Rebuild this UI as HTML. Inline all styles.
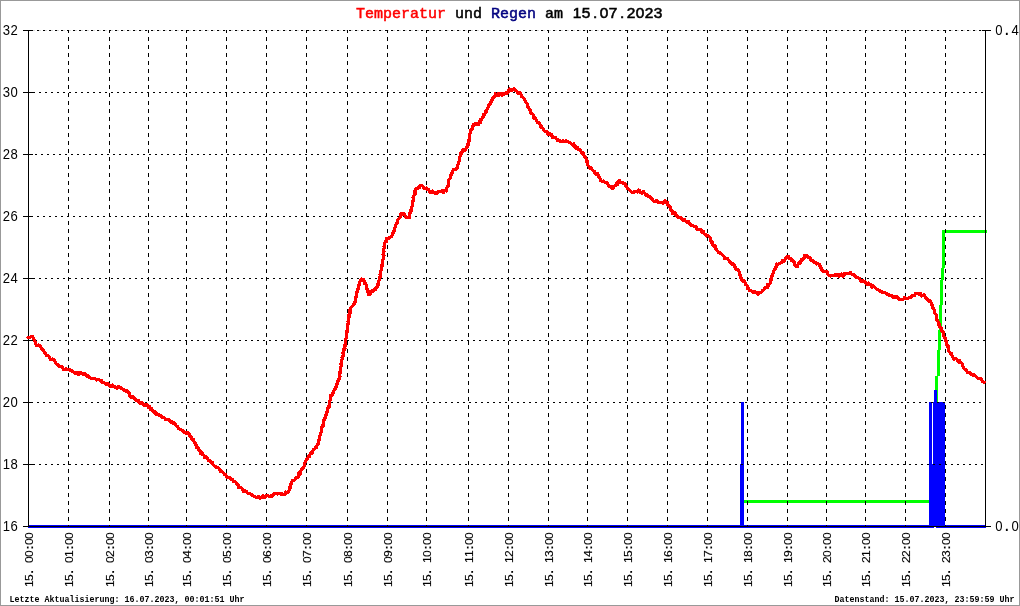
<!DOCTYPE html>
<html lang="de"><head><meta charset="utf-8"><title>Temperatur und Regen am 15.07.2023</title>
<style>html,body{margin:0;padding:0;background:#fff;overflow:hidden}svg{display:block}.t{font-family:"Liberation Mono",monospace;font-size:15px;stroke-width:0.5px}.y{font-family:"Liberation Sans",sans-serif;font-size:13.5px;letter-spacing:0.5px}.d{font-family:"Liberation Sans",sans-serif;font-size:14px;stroke:#000;stroke-width:0.55px}.x{font-family:"Liberation Sans",sans-serif;font-size:11.5px;stroke:#000;stroke-width:0.15px}.f{font-family:"Liberation Mono",monospace;font-size:8.33px;font-weight:bold}</style></head><body>
<svg width="1020" height="606" viewBox="0 0 1020 606">
<rect x="0" y="0" width="1020" height="606" fill="#fff"/>
<rect x="0.5" y="0.5" width="1019" height="605" fill="none" stroke="#999" stroke-width="1" shape-rendering="crispEdges"/>
<g shape-rendering="crispEdges">
<g fill="#00ff00">
<rect x="744" y="500" width="186" height="3"/>
<rect x="942" y="230" width="45" height="3"/>
<rect x="942" y="230" width="3" height="38"/>
<rect x="941" y="268" width="3" height="12"/>
<rect x="940" y="280" width="3" height="25"/>
<rect x="939" y="305" width="3" height="25"/>
<rect x="938" y="330" width="3" height="20"/>
<rect x="937" y="350" width="3" height="26"/>
<rect x="935" y="376" width="3" height="27"/>
</g>
<g fill="#0000ff">
<rect x="28" y="525" width="958" height="3"/>
<rect x="741" y="402" width="3" height="124"/>
<rect x="740" y="464" width="4" height="62"/>
<rect x="929" y="402" width="3" height="124"/>
<rect x="932" y="464" width="1" height="62"/>
<rect x="933" y="402" width="12" height="124"/>
<rect x="934" y="390" width="3" height="12"/>
</g>
<rect x="934" y="527" width="2" height="1" fill="#fff"/>
<g stroke="#000" stroke-width="1" fill="none">
<line x1="28" y1="30.5" x2="985" y2="30.5" stroke="#d6d6d6" stroke-dasharray="2 4" stroke-dashoffset="1"/>
<line x1="28" y1="30.5" x2="985" y2="30.5" stroke-dasharray="2 4" stroke-dashoffset="3"/>
<line x1="28" y1="92.5" x2="985" y2="92.5" stroke-dasharray="2 4" stroke-dashoffset="1"/>
<line x1="28" y1="154.5" x2="985" y2="154.5" stroke-dasharray="2 4" stroke-dashoffset="5"/>
<line x1="28" y1="216.5" x2="985" y2="216.5" stroke-dasharray="2 4" stroke-dashoffset="3"/>
<line x1="28" y1="278.5" x2="985" y2="278.5" stroke-dasharray="2 4" stroke-dashoffset="1"/>
<line x1="28" y1="340.5" x2="985" y2="340.5" stroke-dasharray="2 4" stroke-dashoffset="5"/>
<line x1="28" y1="402.5" x2="985" y2="402.5" stroke-dasharray="2 4" stroke-dashoffset="3"/>
<line x1="28" y1="464.5" x2="985" y2="464.5" stroke-dasharray="2 4" stroke-dashoffset="1"/>
<line x1="68.5" y1="30" x2="68.5" y2="527" stroke-dasharray="4 4" stroke-dashoffset="1"/>
<line x1="109.5" y1="30" x2="109.5" y2="527" stroke-dasharray="4 4" stroke-dashoffset="1"/>
<line x1="148.5" y1="30" x2="148.5" y2="527" stroke-dasharray="4 4" stroke-dashoffset="1"/>
<line x1="186.5" y1="30" x2="186.5" y2="527" stroke-dasharray="4 4" stroke-dashoffset="1"/>
<line x1="226.5" y1="30" x2="226.5" y2="527" stroke-dasharray="4 4" stroke-dashoffset="1"/>
<line x1="266.5" y1="30" x2="266.5" y2="527" stroke-dasharray="4 4" stroke-dashoffset="1"/>
<line x1="306.5" y1="30" x2="306.5" y2="527" stroke-dasharray="4 4" stroke-dashoffset="1"/>
<line x1="347.5" y1="30" x2="347.5" y2="527" stroke-dasharray="4 4" stroke-dashoffset="1"/>
<line x1="387.5" y1="30" x2="387.5" y2="527" stroke-dasharray="4 4" stroke-dashoffset="1"/>
<line x1="426.5" y1="30" x2="426.5" y2="527" stroke-dasharray="4 4" stroke-dashoffset="1"/>
<line x1="468.5" y1="30" x2="468.5" y2="527" stroke-dasharray="4 4" stroke-dashoffset="1"/>
<line x1="508.5" y1="30" x2="508.5" y2="527" stroke-dasharray="4 4" stroke-dashoffset="1"/>
<line x1="548.5" y1="30" x2="548.5" y2="527" stroke-dasharray="4 4" stroke-dashoffset="1"/>
<line x1="587.5" y1="30" x2="587.5" y2="527" stroke-dasharray="4 4" stroke-dashoffset="1"/>
<line x1="627.5" y1="30" x2="627.5" y2="527" stroke-dasharray="4 4" stroke-dashoffset="1"/>
<line x1="667.5" y1="30" x2="667.5" y2="527" stroke-dasharray="4 4" stroke-dashoffset="1"/>
<line x1="707.5" y1="30" x2="707.5" y2="527" stroke-dasharray="4 4" stroke-dashoffset="1"/>
<line x1="747.5" y1="30" x2="747.5" y2="527" stroke-dasharray="4 4" stroke-dashoffset="1"/>
<line x1="787.5" y1="30" x2="787.5" y2="527" stroke-dasharray="4 4" stroke-dashoffset="1"/>
<line x1="826.5" y1="30" x2="826.5" y2="527" stroke-dasharray="4 4" stroke-dashoffset="1"/>
<line x1="865.5" y1="30" x2="865.5" y2="527" stroke-dasharray="4 4" stroke-dashoffset="1"/>
<line x1="905.5" y1="30" x2="905.5" y2="527" stroke-dasharray="4 4" stroke-dashoffset="1"/>
<line x1="945.5" y1="30" x2="945.5" y2="527" stroke-dasharray="4 4" stroke-dashoffset="1"/>
<line x1="28.5" y1="30" x2="28.5" y2="527"/>
<line x1="985.5" y1="30" x2="985.5" y2="527"/>
<line x1="23" y1="526.5" x2="991" y2="526.5"/>
<line x1="23" y1="30.5" x2="33" y2="30.5"/>
<line x1="23" y1="92.5" x2="33" y2="92.5"/>
<line x1="23" y1="154.5" x2="33" y2="154.5"/>
<line x1="23" y1="216.5" x2="33" y2="216.5"/>
<line x1="23" y1="278.5" x2="33" y2="278.5"/>
<line x1="23" y1="340.5" x2="33" y2="340.5"/>
<line x1="23" y1="402.5" x2="33" y2="402.5"/>
<line x1="23" y1="464.5" x2="33" y2="464.5"/>
<line x1="982" y1="30.5" x2="991" y2="30.5"/>
</g>
<polyline points="27.2,336.5 28.3,337.5 29.9,337.3 31.3,336.2 32.4,336.3 32.8,337.5 34.1,339.6 34.2,340.0 35.6,342.5 35.7,343.5 36.3,345.4 37.6,345.9 38.4,344.9 40.0,346.1 40.8,346.6 41.6,348.7 42.1,349.5 43.1,349.4 44.1,352.1 45.1,352.3 45.7,353.8 46.9,355.8 47.9,355.2 49.3,356.7 49.8,358.1 50.7,359.6 52.5,359.0 53.3,359.1 54.4,359.8 55.3,362.6 56.0,363.8 57.2,364.3 58.0,365.0 59.5,366.6 60.2,366.6 61.5,366.3 63.0,368.6 63.5,369.8 65.2,369.4 66.2,368.7 67.1,369.4 69.0,369.4 69.7,369.8 71.6,371.1 72.4,370.8 74.1,372.6 75.4,373.8 76.3,372.6 78.1,373.0 78.7,374.7 80.1,372.8 81.7,373.1 82.8,374.4 84.3,373.3 85.7,374.7 87.2,376.6 88.4,375.8 88.9,376.9 90.6,378.2 91.6,378.8 92.2,378.2 93.4,378.2 94.2,378.5 95.6,379.2 96.9,380.0 98.3,379.5 99.9,380.2 101.5,380.5 101.9,382.5 103.2,382.1 104.1,382.8 106.1,384.6 106.7,384.1 107.6,383.6 109.0,384.8 110.1,386.6 112.2,385.1 112.7,386.6 113.9,386.9 116.1,387.1 117.2,388.2 118.2,386.9 119.9,387.1 121.3,388.5 122.0,388.4 124.1,390.1 125.3,390.6 126.1,391.4 126.7,390.8 127.0,392.0 128.1,392.0 129.4,393.5 129.9,396.2 131.5,397.0 131.9,397.9 132.7,396.8 133.7,397.6 135.4,399.5 136.1,400.8 137.5,401.0 138.5,400.2 139.7,403.0 140.6,403.3 142.0,402.5 143.1,403.4 143.8,405.5 145.4,404.5 145.8,405.9 146.9,404.8 148.6,407.4 149.6,406.3 150.5,409.3 151.3,408.6 151.8,408.9 153.4,412.0 154.7,411.7 155.7,412.4 156.0,414.3 157.1,413.7 158.4,414.5 159.3,415.2 160.9,415.4 161.6,416.6 163.2,417.8 164.3,417.9 165.0,418.7 165.6,419.4 166.9,419.7 168.6,419.2 169.4,420.2 170.6,422.3 171.7,421.8 173.2,423.2 174.3,422.9 175.2,424.0 176.7,426.2 177.8,426.7 178.3,428.7 179.2,428.9 180.2,429.7 181.1,430.0 182.7,430.6 183.7,431.6 184.2,432.7 186.0,432.2 186.3,433.4 187.5,432.5 188.1,433.3 189.3,434.2 190.4,437.0 191.0,436.3 191.3,438.5 192.9,440.1 193.8,439.3 193.9,440.9 194.9,443.5 195.1,442.5 195.6,444.6 196.2,444.9 196.5,447.4 197.5,448.1 198.0,447.8 198.8,450.5 199.9,450.2 200.5,453.2 200.7,452.3 202.2,453.0 202.5,454.4 204.2,455.6 204.5,457.5 206.2,456.6 206.9,458.5 207.2,458.2 208.5,460.7 210.0,460.1 210.8,462.5 211.8,462.0 212.7,462.9 213.1,464.9 214.8,466.0 215.2,466.1 216.4,467.6 217.4,467.3 218.6,468.0 219.8,469.5 220.7,471.5 221.6,471.7 222.4,472.1 223.3,472.7 224.8,474.7 225.7,474.2 226.3,476.9 227.7,477.5 229.2,477.5 230.0,478.0 231.6,479.6 232.5,479.6 233.4,481.3 234.0,481.5 234.6,481.4 236.1,482.4 236.3,483.8 237.8,484.2 238.5,487.2 238.9,486.5 240.0,487.5 241.1,487.9 242.7,489.1 243.4,491.7 244.9,490.7 245.4,491.7 246.6,491.7 247.8,493.5 248.9,493.3 249.8,493.4 251.0,494.1 251.7,494.6 253.0,495.8 254.7,496.7 256.1,497.2 257.7,497.3 258.5,496.6 259.6,498.3 261.5,497.4 263.0,495.5 264.1,497.6 265.7,497.0 266.7,495.4 268.4,496.1 269.7,496.7 271.1,495.9 272.2,496.0 272.8,494.6 274.4,493.8 276.1,493.3 277.2,494.0 278.5,493.6 279.1,493.5 281.2,494.4 282.4,493.8 283.2,494.4 284.8,494.8 285.8,492.0 286.8,492.7 288.6,491.7 289.1,490.0 289.8,488.7 290.2,488.2 290.0,486.6 290.6,484.1 291.1,484.4 291.2,482.7 292.5,480.4 293.9,480.9 294.5,480.0 295.7,478.5 296.3,477.4 297.1,477.5 298.6,476.6 298.8,473.0 300.0,474.0 300.0,472.0 301.4,470.3 301.8,469.2 302.3,468.0 302.4,469.0 303.4,467.5 304.1,466.6 304.9,463.7 304.6,463.3 305.6,460.9 305.9,461.0 306.5,459.1 307.7,458.4 308.3,456.4 308.3,457.4 309.6,456.5 309.8,455.2 310.9,452.9 312.0,453.5 312.8,450.9 313.4,449.7 315.2,448.2 316.2,447.7 316.0,446.5 316.3,446.1 317.5,444.6 317.8,444.7 318.3,443.0 318.4,442.6 318.3,440.9 319.2,439.8 319.7,438.6 319.4,436.1 319.8,436.6 320.4,434.1 321.1,432.4 320.9,432.9 321.3,430.9 321.7,429.3 321.8,427.1 322.9,425.9 322.6,425.4 323.8,425.3 323.3,422.8 323.6,420.9 324.0,420.1 324.5,418.5 325.6,418.2 325.5,417.4 326.0,415.3 326.2,413.9 326.5,411.9 326.7,413.0 327.7,410.6 327.7,410.3 328.1,407.6 328.7,406.7 329.5,407.0 328.9,405.6 329.8,402.2 329.8,403.2 329.5,401.2 330.6,399.5 330.8,399.4 330.3,398.6 330.5,395.2 331.2,395.1 332.0,395.1 332.9,393.3 333.5,391.7 334.5,389.6 335.5,389.1 335.7,389.1 336.0,386.5 336.8,386.6 336.6,384.0 337.5,383.8 337.5,382.2 337.6,381.5 338.5,379.5 339.0,380.0 339.2,378.5 339.3,375.6 340.0,376.3 339.5,373.3 340.3,372.6 340.0,371.1 340.9,370.6 340.2,368.2 340.7,367.2 340.7,366.9 341.4,366.0 341.0,364.0 341.3,363.9 341.4,362.3 342.1,359.5 342.5,358.5 342.0,357.8 342.5,355.8 343.3,355.7 343.0,353.1 343.8,352.1 343.2,350.7 343.8,349.2 344.6,350.2 345.0,348.5 344.6,347.8 345.5,344.6 344.8,344.8 345.4,343.4 345.5,341.4 345.4,339.6 345.9,338.7 345.8,339.2 346.1,338.0 346.9,335.1 346.7,335.1 346.9,331.9 347.6,331.5 347.2,329.7 347.0,330.3 347.9,327.8 347.3,327.5 347.4,324.4 347.7,325.4 348.5,323.8 347.9,321.5 348.4,321.8 348.6,318.8 348.4,317.6 349.2,315.5 349.3,316.5 348.9,315.3 349.6,312.1 350.4,312.7 350.0,309.8 350.6,308.6 350.7,308.5 351.6,306.8 352.8,306.0 353.6,304.7 354.8,303.1 354.7,303.0 355.6,300.1 355.2,298.9 355.9,297.1 356.5,296.5 356.8,296.6 356.2,293.7 357.0,291.9 357.2,292.2 357.6,289.6 358.1,289.3 358.6,288.3 358.3,286.8 358.8,285.9 359.3,283.8 359.5,282.9 360.3,280.5 361.7,279.1 361.8,279.0 363.4,279.4 363.6,280.5 365.0,282.1 364.8,283.9 365.9,283.8 366.4,286.0 366.1,285.2 366.4,286.7 367.3,290.1 367.6,291.2 368.1,292.2 369.0,291.7 368.8,294.7 369.8,294.9 370.6,292.8 371.4,291.4 372.8,290.6 373.5,290.9 374.8,288.6 375.8,289.7 376.3,287.6 377.1,287.8 377.2,284.8 378.2,284.5 378.0,284.0 378.9,281.5 378.8,281.0 379.8,279.5 379.7,278.3 379.7,277.0 380.5,277.0 379.9,274.3 380.1,273.9 381.0,270.6 381.2,270.3 381.6,268.9 381.2,267.7 381.9,265.1 382.5,265.4 382.4,262.5 382.5,261.9 382.5,259.9 383.3,259.5 383.1,257.0 383.7,257.6 383.0,254.7 384.0,255.4 383.2,253.0 383.6,252.9 384.0,251.6 383.7,250.2 383.8,248.9 384.6,246.6 384.1,246.5 384.4,243.7 384.9,243.2 385.3,241.0 386.5,241.4 386.7,238.4 386.7,239.1 388.0,238.7 389.6,237.6 390.5,237.1 391.9,236.0 392.5,234.8 392.8,233.7 393.5,231.4 393.6,231.5 394.7,231.0 394.6,229.1 395.0,227.9 395.7,225.8 396.2,224.4 396.2,224.3 396.6,223.4 397.7,222.4 397.4,220.5 398.2,219.3 398.3,219.2 399.8,217.8 400.3,216.4 401.0,214.0 401.6,213.7 401.5,213.7 403.4,214.3 404.1,213.3 405.1,216.1 406.4,217.2 407.4,217.8 409.4,217.7 409.1,215.7 409.4,215.3 409.6,212.9 410.6,212.0 410.9,212.1 411.1,209.6 411.1,208.2 411.3,208.4 411.7,207.7 412.3,205.6 412.6,203.1 412.3,203.1 412.4,202.3 412.9,201.5 413.4,198.5 413.0,197.4 413.1,196.9 413.8,195.9 415.0,194.2 415.1,192.9 414.9,190.9 415.5,189.0 416.2,189.3 417.8,188.5 418.2,187.0 419.1,187.8 420.5,185.5 421.6,185.3 422.9,186.3 423.7,187.9 425.1,188.6 426.7,188.1 427.1,189.3 428.8,189.8 430.2,192.8 430.9,191.7 432.6,190.9 433.5,192.5 434.9,192.9 436.4,193.8 437.9,191.9 438.8,191.2 439.8,191.9 441.6,190.8 442.7,190.5 443.4,192.6 445.1,190.4 446.3,190.9 446.2,190.5 446.7,188.0 447.7,186.1 447.9,186.8 448.4,183.5 448.4,184.2 448.7,183.1 448.7,180.5 449.0,179.4 450.0,178.5 450.5,178.3 450.2,177.1 450.7,175.5 451.4,175.1 452.1,172.6 452.3,173.4 452.6,172.1 453.4,169.4 455.3,169.6 455.9,168.6 457.0,168.0 457.9,165.0 458.0,164.7 458.6,163.5 458.7,161.7 459.1,161.0 459.2,159.0 459.4,158.1 460.2,156.0 461.1,154.4 460.7,153.3 462.2,151.9 461.9,151.3 462.9,149.6 464.5,150.6 465.6,149.7 466.5,147.3 467.1,146.8 467.6,146.8 468.0,143.6 468.5,144.5 468.2,141.2 468.4,140.0 469.4,140.6 469.7,138.7 469.4,137.4 469.4,134.8 469.7,135.2 470.2,132.7 470.3,130.7 471.3,130.1 471.4,129.0 472.2,129.3 472.8,127.7 473.2,124.3 474.1,124.0 475.3,123.7 476.0,124.0 477.1,124.8 478.5,124.5 479.2,121.3 480.6,122.2 480.8,119.1 481.8,119.3 482.2,117.4 483.2,116.7 483.9,115.4 483.8,114.4 484.7,114.4 485.4,111.9 486.1,110.7 486.7,111.3 486.9,110.0 487.5,108.3 487.8,108.3 488.3,107.2 489.2,104.2 490.0,104.8 491.0,102.3 491.2,100.7 492.1,100.4 492.7,99.9 493.1,97.7 494.3,96.1 494.9,96.3 495.2,93.9 496.7,95.3 498.0,93.5 499.1,95.3 500.5,93.6 502.2,95.1 502.8,93.8 504.2,94.1 505.1,93.8 506.1,92.3 507.7,93.0 509.0,89.7 509.8,89.1 511.5,90.8 512.5,89.6 513.8,88.8 514.4,89.2 515.2,90.6 517.0,91.2 517.8,92.8 518.8,93.5 520.0,93.0 521.1,94.6 521.7,96.9 522.8,97.0 523.1,97.6 524.6,99.4 525.2,100.5 525.7,101.9 526.1,102.6 526.8,103.0 527.1,103.7 528.0,106.7 528.1,107.5 528.8,108.1 529.3,109.7 530.4,111.0 530.7,110.8 530.9,113.4 532.1,113.8 532.5,113.8 533.5,115.2 534.1,118.4 535.0,117.4 535.9,119.7 536.7,120.8 537.4,122.7 538.6,122.8 539.2,123.4 540.1,125.0 541.1,125.4 541.0,127.1 542.2,128.0 543.1,128.4 544.2,130.6 545.1,131.2 547.0,131.6 548.1,134.2 549.4,133.2 549.9,134.5 551.5,134.6 552.3,137.2 553.5,137.1 555.2,137.3 556.1,138.5 557.5,140.5 558.2,139.9 559.3,140.5 560.7,141.5 561.9,141.9 563.1,141.0 564.3,141.5 566.1,140.7 566.8,141.7 568.4,142.0 570.0,142.6 571.1,143.4 572.6,145.1 573.6,143.7 574.6,146.9 575.6,145.9 575.8,148.0 577.8,147.2 578.1,149.7 578.9,149.0 580.6,150.2 580.8,151.5 582.2,154.0 583.2,153.0 583.9,155.2 584.8,156.3 585.3,157.9 585.7,157.6 586.3,159.6 587.0,160.6 587.0,162.1 587.3,162.6 587.7,164.5 588.3,165.7 589.1,167.0 590.0,168.4 591.2,167.8 592.2,169.9 593.7,171.2 594.5,171.3 595.1,173.9 596.6,174.2 597.5,173.7 598.7,176.5 599.6,176.8 600.0,178.4 600.4,180.6 601.8,181.4 603.3,181.0 604.2,181.7 605.7,182.7 606.6,182.5 607.7,183.9 608.4,185.8 609.5,186.7 610.3,186.6 612.0,187.5 612.8,188.7 613.4,186.8 614.7,185.7 615.9,185.6 616.9,183.0 617.8,184.5 618.6,181.6 619.5,180.7 620.9,182.4 622.5,182.4 623.7,183.7 625.1,183.6 625.8,185.0 626.0,186.1 626.9,187.3 627.2,188.7 627.8,188.4 630.0,190.7 630.7,191.3 632.3,192.5 633.1,192.7 634.5,191.7 635.7,191.4 637.5,192.0 638.4,190.1 639.2,190.4 640.9,192.7 642.0,193.3 643.2,191.2 645.0,193.6 645.8,195.4 646.7,194.7 648.0,196.2 648.7,196.1 650.2,196.9 651.3,198.3 652.1,199.4 652.5,199.7 653.9,201.5 655.1,201.7 657.0,200.1 658.2,202.3 658.6,202.7 660.4,202.8 661.8,202.8 663.0,202.7 663.1,203.2 664.9,200.7 665.4,202.1 666.7,201.9 667.5,202.6 667.4,204.5 668.6,205.3 669.4,206.5 670.2,206.9 670.7,208.7 671.1,210.5 672.1,211.0 672.8,213.7 673.3,213.4 675.0,212.8 675.8,215.2 676.6,215.0 677.8,217.4 678.5,217.2 680.2,217.5 681.2,218.2 682.5,219.5 683.1,220.8 684.2,219.4 685.7,221.1 687.2,222.8 688.4,221.4 689.6,224.1 690.1,224.2 691.8,225.7 693.1,226.0 693.4,225.9 695.3,227.1 696.5,226.9 697.1,229.5 698.8,229.4 699.5,229.7 701.3,229.9 702.1,232.2 703.5,231.2 704.0,233.9 705.8,234.3 706.5,236.0 707.5,235.8 707.9,235.8 709.3,236.6 710.1,237.9 710.6,239.2 710.6,239.6 711.5,242.9 712.3,241.7 712.4,244.6 713.1,245.3 713.7,246.1 715.5,245.9 715.8,249.1 716.4,249.3 717.4,250.9 718.6,252.4 719.6,253.1 719.5,252.7 720.6,253.4 721.5,253.9 723.2,256.0 724.3,256.6 724.3,258.6 725.6,258.6 727.2,258.2 727.9,259.4 729.4,261.2 729.9,262.1 730.8,262.4 732.7,264.6 732.8,263.5 734.0,264.9 735.4,267.8 735.3,268.7 736.8,269.5 737.9,270.1 737.8,269.6 739.4,272.4 739.2,273.4 740.0,274.3 740.0,274.3 740.1,275.9 740.6,277.7 741.2,278.0 741.8,280.1 742.7,281.2 744.1,280.4 744.8,281.9 745.5,284.8 745.8,284.2 747.1,285.3 747.5,288.5 748.3,288.5 749.6,290.4 750.3,290.9 751.4,290.8 753.2,292.5 754.8,291.4 755.6,292.1 756.8,292.2 758.1,294.4 759.4,292.2 761.0,292.2 762.2,291.3 762.9,290.2 763.0,290.9 763.9,289.4 764.6,287.9 766.2,287.2 767.1,287.9 767.4,284.6 768.2,285.6 769.4,284.2 770.1,283.8 770.7,282.0 770.7,278.9 771.5,279.3 771.7,276.3 771.8,276.8 772.4,274.6 773.6,272.4 773.7,272.5 774.2,269.6 775.1,269.8 775.3,267.8 776.3,267.5 776.7,266.8 776.7,264.0 778.1,264.6 778.9,263.7 780.3,263.1 782.0,262.5 782.3,260.9 784.0,261.4 784.6,260.4 786.1,257.8 786.3,257.4 787.6,256.6 788.5,256.4 789.5,258.3 790.6,258.2 791.8,260.7 792.4,260.5 793.3,261.7 794.3,262.0 794.7,265.3 795.6,265.3 795.9,266.4 797.3,266.7 798.3,263.8 800.2,263.2 800.1,261.5 800.8,262.2 801.7,259.3 802.2,259.7 802.4,258.9 804.2,258.5 804.8,255.4 806.3,255.7 806.9,255.9 807.9,257.1 809.6,258.3 810.3,258.0 810.9,260.3 812.6,261.2 813.1,260.8 814.2,262.7 815.9,262.3 816.5,264.0 817.8,263.4 819.7,264.6 820.2,266.8 820.7,268.0 821.0,267.2 822.0,270.7 822.0,270.0 823.3,271.4 824.3,271.4 826.1,271.5 826.7,271.3 828.3,274.7 829.2,275.5 830.4,276.0 830.9,276.0 832.4,275.2 833.8,275.2 835.7,274.9 836.3,275.1 837.8,274.9 838.9,276.1 840.6,274.4 841.8,274.0 843.0,276.0 844.2,274.0 845.1,274.5 846.3,273.2 847.9,273.5 848.9,273.3 850.5,272.7 851.8,274.5 852.9,274.6 853.9,274.4 854.7,275.8 855.7,277.0 856.4,277.0 857.8,277.4 858.9,278.5 859.7,278.2 860.6,281.1 861.9,281.0 863.5,280.9 864.6,281.6 865.2,282.0 866.9,284.5 868.2,283.1 869.7,284.6 870.3,284.3 872.0,287.1 872.7,285.5 874.2,286.6 875.5,287.9 876.3,289.0 877.7,289.3 878.5,289.9 879.9,290.5 880.5,291.5 881.5,291.9 883.2,292.2 884.7,292.1 885.3,292.9 886.9,294.0 887.5,294.1 888.8,294.3 889.7,295.6 891.1,295.3 892.0,295.8 893.7,297.5 894.4,297.3 895.6,296.7 897.1,296.9 897.9,298.2 899.5,299.4 901.3,299.4 901.9,299.9 903.9,298.8 904.3,297.3 906.0,298.4 907.5,298.9 908.9,297.6 909.7,297.1 910.8,297.2 912.2,295.7 913.8,295.1 914.6,295.4 915.7,293.3 917.1,293.4 918.7,293.3 919.5,294.8 920.8,294.0 921.7,296.0 923.4,295.3 924.1,294.9 925.6,297.9 925.9,297.6 927.4,299.5 928.7,300.2 929.1,301.2 930.0,300.2 930.7,302.3 930.9,302.6 931.8,304.9 932.6,305.3 932.2,307.2 933.4,307.8 933.8,308.7 933.9,309.1 934.7,312.4 934.7,313.2 935.5,313.9 936.0,314.5 936.7,316.5 936.6,317.8 936.7,317.8 937.1,320.7 937.5,320.2 938.6,322.5 939.0,324.0 938.6,323.8 939.4,326.7 939.9,327.7 940.3,327.4 941.5,328.3 941.4,330.7 941.9,331.5 942.9,331.6 943.5,334.0 943.6,334.8 943.6,335.4 944.9,338.3 945.4,337.8 945.2,340.3 946.3,341.0 946.7,341.9 946.5,342.5 946.8,344.9 947.8,345.1 948.2,346.7 947.9,347.3 948.4,348.8 948.9,351.6 949.1,351.8 950.0,352.7 950.4,353.5 951.8,353.8 951.8,355.4 952.5,356.1 952.9,357.3 953.8,359.4 955.5,358.5 956.4,358.7 957.6,361.0 959.6,360.4 959.7,362.4 961.0,362.3 961.9,363.4 962.6,364.0 962.6,365.9 963.2,366.8 964.1,368.5 965.2,369.9 965.8,369.3 966.6,370.8 967.4,372.3 968.6,372.2 969.7,372.5 970.5,373.6 971.2,374.7 972.0,374.9 973.8,374.9 974.7,375.9 975.6,376.0 976.6,377.3 977.3,377.8 978.7,378.4 980.4,378.5 981.3,379.5 982.9,381.8 984.2,382.3 984.9,380.9" fill="none" stroke="#ff0000" stroke-width="3.2" stroke-linejoin="round"/>
</g>
<g id="txt" opacity="0.999">
<text class="t" x="356" y="18" xml:space="preserve"><tspan fill="#ff0000" stroke="#ff0000">Temperatur</tspan><tspan fill="#000" stroke="#000"> und </tspan><tspan fill="#000080" stroke="#000080">Regen</tspan><tspan fill="#000" stroke="#000"> am </tspan></text>
<text class="d" transform="translate(572,18) scale(1.1,1)" x="0.64 8.82 19.00 25.18 33.36 43.55 49.73 57.91 66.09 74.27" xml:space="preserve">15.07.2023</text>
<text class="y" transform="translate(18.2,35) scale(0.97,1.06)" text-anchor="end">32</text>
<text class="y" transform="translate(18.2,97) scale(0.97,1.06)" text-anchor="end">30</text>
<text class="y" transform="translate(18.2,159) scale(0.97,1.06)" text-anchor="end">28</text>
<text class="y" transform="translate(18.2,221) scale(0.97,1.06)" text-anchor="end">26</text>
<text class="y" transform="translate(18.2,283) scale(0.97,1.06)" text-anchor="end">24</text>
<text class="y" transform="translate(18.2,345) scale(0.97,1.06)" text-anchor="end">22</text>
<text class="y" transform="translate(18.2,407) scale(0.97,1.06)" text-anchor="end">20</text>
<text class="y" transform="translate(18.2,469) scale(0.97,1.06)" text-anchor="end">18</text>
<text class="y" transform="translate(18.2,531) scale(0.97,1.06)" text-anchor="end">16</text>
<text class="y" transform="translate(995.3,35) scale(0.97,1.06)" x="0 9.9 16.6" xml:space="preserve">0<tspan font-weight="bold">.</tspan>4</text>
<text class="y" transform="translate(995.3,531) scale(0.97,1.06)" x="0 9.9 16.6" xml:space="preserve">0<tspan font-weight="bold">.</tspan>0</text>
<text class="x" transform="translate(33.2,587) rotate(-90) scale(1.05,1)" x="-0.10 5.61 12.78 17.04 22.76 28.47 35.64 39.90 45.61" xml:space="preserve">15<tspan font-weight="bold">.</tspan> 00<tspan font-weight="bold">:</tspan>00</text>
<text class="x" transform="translate(73.2,587) rotate(-90) scale(1.05,1)" x="-0.10 5.61 12.78 17.04 22.76 28.47 35.64 39.90 45.61" xml:space="preserve">15<tspan font-weight="bold">.</tspan> 01<tspan font-weight="bold">:</tspan>00</text>
<text class="x" transform="translate(114.2,587) rotate(-90) scale(1.05,1)" x="-0.10 5.61 12.78 17.04 22.76 28.47 35.64 39.90 45.61" xml:space="preserve">15<tspan font-weight="bold">.</tspan> 02<tspan font-weight="bold">:</tspan>00</text>
<text class="x" transform="translate(153.2,587) rotate(-90) scale(1.05,1)" x="-0.10 5.61 12.78 17.04 22.76 28.47 35.64 39.90 45.61" xml:space="preserve">15<tspan font-weight="bold">.</tspan> 03<tspan font-weight="bold">:</tspan>00</text>
<text class="x" transform="translate(191.2,587) rotate(-90) scale(1.05,1)" x="-0.10 5.61 12.78 17.04 22.76 28.47 35.64 39.90 45.61" xml:space="preserve">15<tspan font-weight="bold">.</tspan> 04<tspan font-weight="bold">:</tspan>00</text>
<text class="x" transform="translate(231.2,587) rotate(-90) scale(1.05,1)" x="-0.10 5.61 12.78 17.04 22.76 28.47 35.64 39.90 45.61" xml:space="preserve">15<tspan font-weight="bold">.</tspan> 05<tspan font-weight="bold">:</tspan>00</text>
<text class="x" transform="translate(271.2,587) rotate(-90) scale(1.05,1)" x="-0.10 5.61 12.78 17.04 22.76 28.47 35.64 39.90 45.61" xml:space="preserve">15<tspan font-weight="bold">.</tspan> 06<tspan font-weight="bold">:</tspan>00</text>
<text class="x" transform="translate(311.2,587) rotate(-90) scale(1.05,1)" x="-0.10 5.61 12.78 17.04 22.76 28.47 35.64 39.90 45.61" xml:space="preserve">15<tspan font-weight="bold">.</tspan> 07<tspan font-weight="bold">:</tspan>00</text>
<text class="x" transform="translate(352.2,587) rotate(-90) scale(1.05,1)" x="-0.10 5.61 12.78 17.04 22.76 28.47 35.64 39.90 45.61" xml:space="preserve">15<tspan font-weight="bold">.</tspan> 08<tspan font-weight="bold">:</tspan>00</text>
<text class="x" transform="translate(392.2,587) rotate(-90) scale(1.05,1)" x="-0.10 5.61 12.78 17.04 22.76 28.47 35.64 39.90 45.61" xml:space="preserve">15<tspan font-weight="bold">.</tspan> 09<tspan font-weight="bold">:</tspan>00</text>
<text class="x" transform="translate(431.2,587) rotate(-90) scale(1.05,1)" x="-0.10 5.61 12.78 17.04 22.76 28.47 35.64 39.90 45.61" xml:space="preserve">15<tspan font-weight="bold">.</tspan> 10<tspan font-weight="bold">:</tspan>00</text>
<text class="x" transform="translate(473.2,587) rotate(-90) scale(1.05,1)" x="-0.10 5.61 12.78 17.04 22.76 28.47 35.64 39.90 45.61" xml:space="preserve">15<tspan font-weight="bold">.</tspan> 11<tspan font-weight="bold">:</tspan>00</text>
<text class="x" transform="translate(513.2,587) rotate(-90) scale(1.05,1)" x="-0.10 5.61 12.78 17.04 22.76 28.47 35.64 39.90 45.61" xml:space="preserve">15<tspan font-weight="bold">.</tspan> 12<tspan font-weight="bold">:</tspan>00</text>
<text class="x" transform="translate(553.2,587) rotate(-90) scale(1.05,1)" x="-0.10 5.61 12.78 17.04 22.76 28.47 35.64 39.90 45.61" xml:space="preserve">15<tspan font-weight="bold">.</tspan> 13<tspan font-weight="bold">:</tspan>00</text>
<text class="x" transform="translate(592.2,587) rotate(-90) scale(1.05,1)" x="-0.10 5.61 12.78 17.04 22.76 28.47 35.64 39.90 45.61" xml:space="preserve">15<tspan font-weight="bold">.</tspan> 14<tspan font-weight="bold">:</tspan>00</text>
<text class="x" transform="translate(632.2,587) rotate(-90) scale(1.05,1)" x="-0.10 5.61 12.78 17.04 22.76 28.47 35.64 39.90 45.61" xml:space="preserve">15<tspan font-weight="bold">.</tspan> 15<tspan font-weight="bold">:</tspan>00</text>
<text class="x" transform="translate(672.2,587) rotate(-90) scale(1.05,1)" x="-0.10 5.61 12.78 17.04 22.76 28.47 35.64 39.90 45.61" xml:space="preserve">15<tspan font-weight="bold">.</tspan> 16<tspan font-weight="bold">:</tspan>00</text>
<text class="x" transform="translate(712.2,587) rotate(-90) scale(1.05,1)" x="-0.10 5.61 12.78 17.04 22.76 28.47 35.64 39.90 45.61" xml:space="preserve">15<tspan font-weight="bold">.</tspan> 17<tspan font-weight="bold">:</tspan>00</text>
<text class="x" transform="translate(752.2,587) rotate(-90) scale(1.05,1)" x="-0.10 5.61 12.78 17.04 22.76 28.47 35.64 39.90 45.61" xml:space="preserve">15<tspan font-weight="bold">.</tspan> 18<tspan font-weight="bold">:</tspan>00</text>
<text class="x" transform="translate(792.2,587) rotate(-90) scale(1.05,1)" x="-0.10 5.61 12.78 17.04 22.76 28.47 35.64 39.90 45.61" xml:space="preserve">15<tspan font-weight="bold">.</tspan> 19<tspan font-weight="bold">:</tspan>00</text>
<text class="x" transform="translate(831.2,587) rotate(-90) scale(1.05,1)" x="-0.10 5.61 12.78 17.04 22.76 28.47 35.64 39.90 45.61" xml:space="preserve">15<tspan font-weight="bold">.</tspan> 20<tspan font-weight="bold">:</tspan>00</text>
<text class="x" transform="translate(870.2,587) rotate(-90) scale(1.05,1)" x="-0.10 5.61 12.78 17.04 22.76 28.47 35.64 39.90 45.61" xml:space="preserve">15<tspan font-weight="bold">.</tspan> 21<tspan font-weight="bold">:</tspan>00</text>
<text class="x" transform="translate(910.2,587) rotate(-90) scale(1.05,1)" x="-0.10 5.61 12.78 17.04 22.76 28.47 35.64 39.90 45.61" xml:space="preserve">15<tspan font-weight="bold">.</tspan> 22<tspan font-weight="bold">:</tspan>00</text>
<text class="x" transform="translate(950.2,587) rotate(-90) scale(1.05,1)" x="-0.10 5.61 12.78 17.04 22.76 28.47 35.64 39.90 45.61" xml:space="preserve">15<tspan font-weight="bold">.</tspan> 23<tspan font-weight="bold">:</tspan>00</text>
<text class="f" x="9.5" y="602" xml:space="preserve">Letzte Aktualisierung: 16.07.2023, 00:01:51 Uhr</text>
<text class="f" x="834.5" y="602" xml:space="preserve">Datenstand: 15.07.2023, 23:59:59 Uhr</text>
</g>
</svg></body></html>
